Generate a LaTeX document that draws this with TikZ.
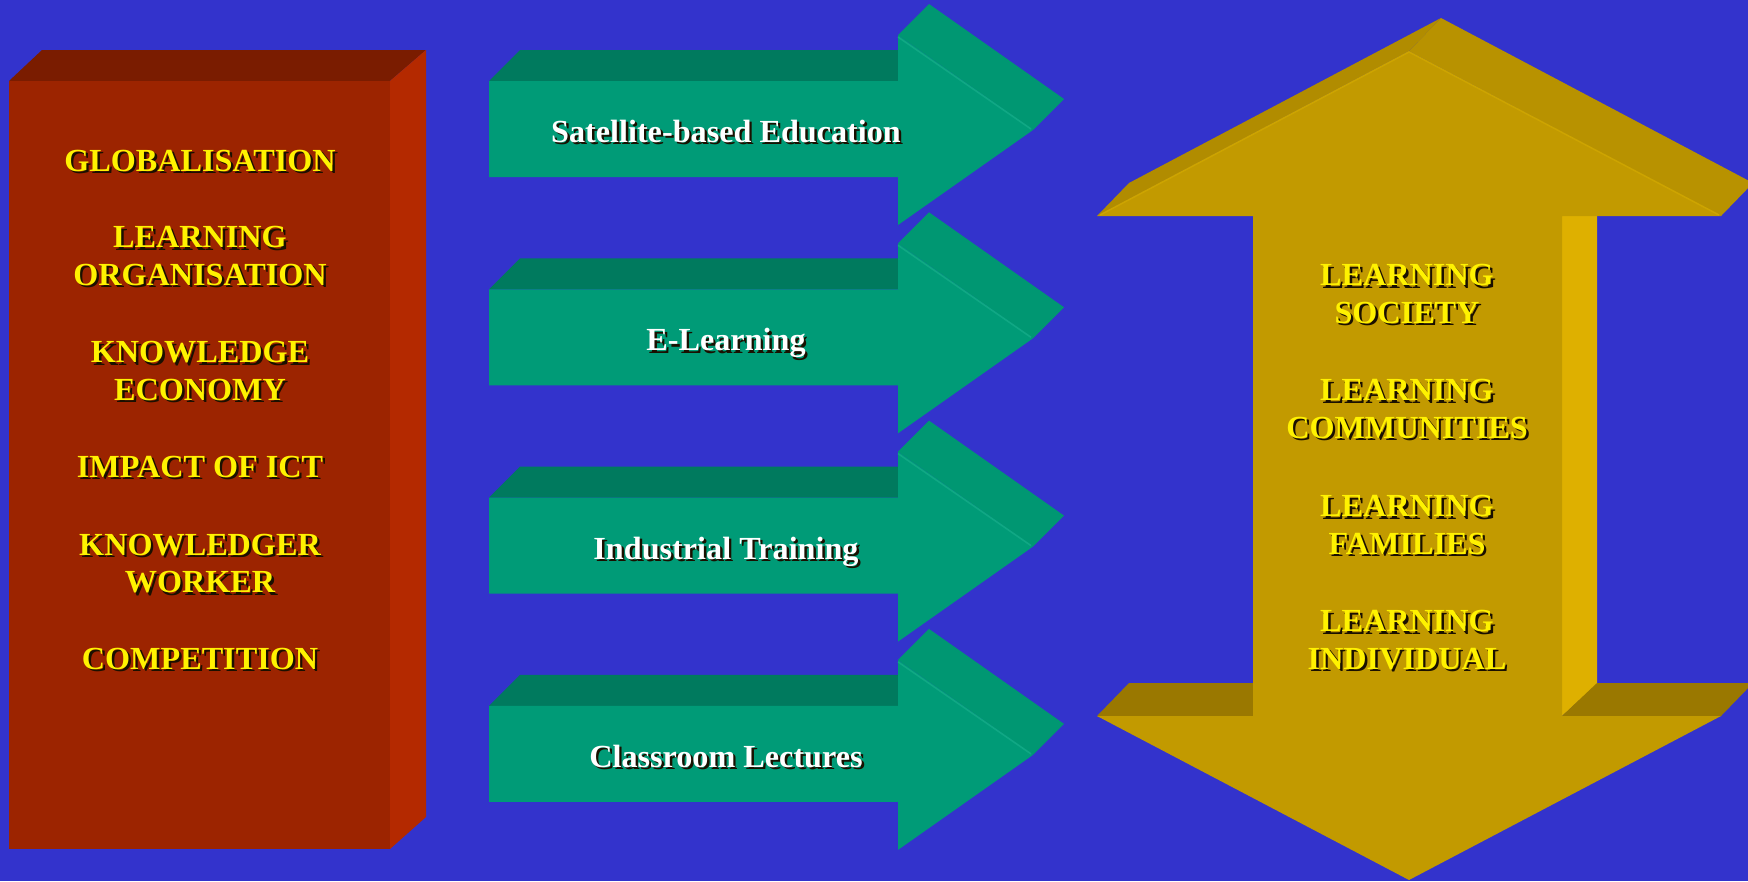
\documentclass[tikz,border=0pt]{standalone}
\usepackage{fontspec}
\setmainfont{Liberation Serif}
\definecolor{bgc}{HTML}{3333CC}
\definecolor{redfront}{HTML}{9C2400}
\definecolor{redtop}{HTML}{7A1C00}
\definecolor{redside}{HTML}{B42900}
\definecolor{grfront}{HTML}{009B77}
\definecolor{grtop}{HTML}{007A5E}
\definecolor{grhead}{HTML}{009772}
\definecolor{grline}{HTML}{10A884}
\definecolor{gdfront}{HTML}{C29A00}
\definecolor{gdtop}{HTML}{B89200}
\definecolor{gdside}{HTML}{DEB000}
\definecolor{gddark}{HTML}{9A7800}
\definecolor{gdline}{HTML}{CDA400}
\definecolor{shadowc}{HTML}{1A1000}
\newcommand\shd[1]{\leavevmode\rlap{\smash{\kern2.4pt\raisebox{-2.4pt}{\textcolor{shadowc}{#1}}}}#1}
\begin{document}
\begin{tikzpicture}[x=1pt,y=-1pt,
  ytxt/.style={text=yellow, font=\bfseries\fontsize{32.2}{37.5}\selectfont, align=center, inner sep=0pt},
  wtxt/.style={text=white, font=\bfseries\fontsize{32.2}{37.5}\selectfont, inner sep=0pt, anchor=base}]
\useasboundingbox (0,0) rectangle (1748,881);
\clip (0,0) rectangle (1748,881);
\fill[bgc] (0,0) rectangle (1748,881);

% left red box
\fill[redtop] (9,81) -- (42,50) -- (426,50) -- (390,81) -- cycle;
\fill[redside] (390,81) -- (426,50) -- (426,817) -- (390,849) -- cycle;
\fill[redfront] (9,81) rectangle (390,849);

\node[ytxt] (l1) at (200,160.5) {\shd{GLOBALISATION}};
\node[ytxt] (l2) at (200,256) {\shd{LEARNING}\\\shd{ORGANISATION}};
\node[ytxt] (l3) at (200,371) {\shd{KNOWLEDGE}\\\shd{ECONOMY}};
\node[ytxt] (l4) at (200,467) {\shd{IMPACT OF ICT}};
\node[ytxt] (l5) at (200,563.5) {\shd{KNOWLEDGER}\\\shd{WORKER}};
\node[ytxt] (l6) at (200,659) {\shd{COMPETITION}};

% green arrows
\foreach \k in {0,1,2,3}{
\begin{scope}[shift={(0,\k*208.3)}]
 \fill[grtop] (489,81) -- (520,50) -- (898,50) -- (898,81) -- cycle;
 \fill[grhead] (898,35) -- (929,4) -- (1064,99) -- (1033,130) -- cycle;
 \fill[grfront] (489,81) -- (898,81) -- (898,35) -- (1033,130) -- (898,225) -- (898,177) -- (489,177) -- cycle;
 \draw[grline, line width=1.6pt] (898,37) -- (1031,129);
\end{scope}
}
\node[wtxt] (g1) at (726,142.5) {\shd{Satellite-based Education}};
\node[wtxt] (g2) at (726,350.8) {\shd{E-Learning}};
\node[wtxt] (g3) at (726,559.1) {\shd{Industrial Training}};
\node[wtxt] (g4) at (726,767.4) {\shd{Classroom Lectures}};

% gold double arrow
\fill[gdtop] (1409,51) -- (1441,18) -- (1753,183) -- (1721,216) -- cycle;
\fill[gdtop!96!black] (1097,216) -- (1129,183) -- (1441,18) -- (1409,51) -- cycle;
\fill[gdside] (1562,216) -- (1597,183) -- (1597,684) -- (1562,716) -- cycle;
\fill[gddark] (1097,716) -- (1129,683) -- (1285,683) -- (1253,716) -- cycle;
\fill[gddark] (1562,716) -- (1597,683) -- (1753,683) -- (1721,716) -- cycle;
\fill[gdfront] (1409,51) -- (1721,216) -- (1562,216) -- (1562,716) -- (1721,716) -- (1409,880)
  -- (1097,716) -- (1253,716) -- (1253,216) -- (1097,216) -- cycle;
\draw[gdline, line width=1.5pt] (1100,215) -- (1409,52) -- (1719,215);

\node[ytxt] (r1) at (1407,294) {\shd{LEARNING}\\\shd{SOCIETY}};
\node[ytxt] (r2) at (1407,409) {\shd{LEARNING}\\\shd{COMMUNITIES}};
\node[ytxt] (r3) at (1407,525) {\shd{LEARNING}\\\shd{FAMILIES}};
\node[ytxt] (r4) at (1407,640) {\shd{LEARNING}\\\shd{INDIVIDUAL}};
\end{tikzpicture}
\end{document}
